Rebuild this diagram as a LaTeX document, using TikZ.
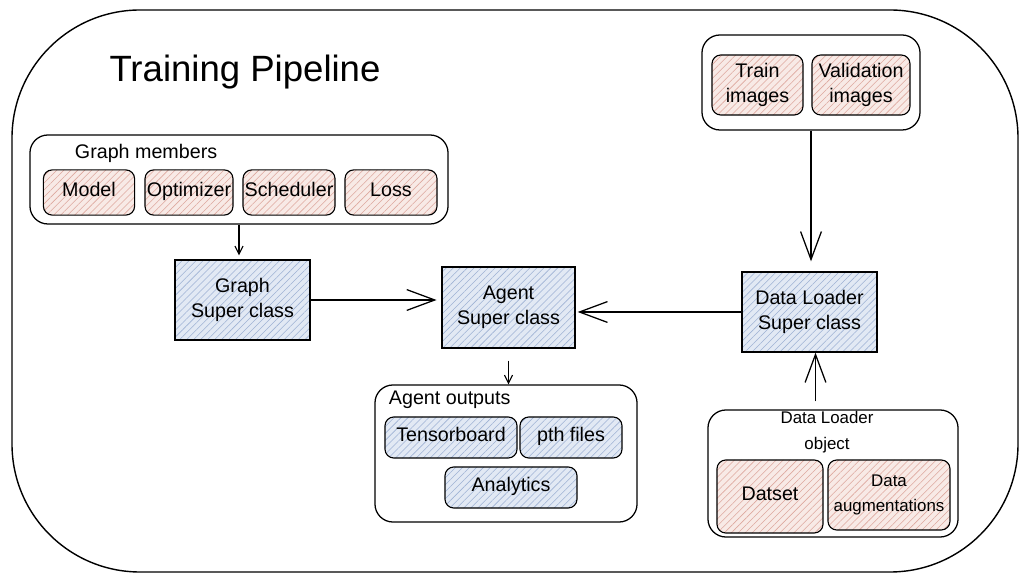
\documentclass[tikz,border=0pt]{standalone}
\usepackage{fontspec}
\setmainfont{Liberation Sans}
\usetikzlibrary{arrows.meta,patterns.meta}

\definecolor{pinkbg}{RGB}{248,234,230}
\definecolor{pinkhatch}{RGB}{222,168,158}
\definecolor{bluebg}{RGB}{226,233,244}
\definecolor{bluehatch}{RGB}{158,178,212}

\tikzset{
	group/.style={draw, line width=0.9pt, rounded corners=0.45cm},
	pinkbox/.style={draw, line width=0.8pt, rounded corners=0.22cm, align=center, inner sep=0pt,
		preaction={fill=pinkbg},
		preaction={pattern={Lines[angle=45,distance=3.5pt,line width=0.4pt]}, pattern color=pinkhatch}},
	bluebox/.style={draw, line width=0.9pt, align=center, inner sep=0pt,
		preaction={fill=bluebg},
		preaction={pattern={Lines[angle=45,distance=3.5pt,line width=0.4pt]}, pattern color=bluehatch}},
	bluepill/.style={bluebox, rounded corners=0.22cm, line width=0.8pt},
	oneline/.style={text height=1.55ex, text depth=0.45ex},
	bigarrow/.style={-{Straight Barb[length=0.7cm,width=0.52cm]}, line width=0.9pt},
	smallarrow/.style={-{Straight Barb[length=0.2cm,width=0.2cm]}, line width=0.8pt},
}

\begin{document}
\begin{tikzpicture}[x=0.025cm, y=-0.025cm, every node/.append style={font=\fontsize{14}{18}\selectfont}]
		\useasboundingbox (0,0) rectangle (1027,582);
		\draw[line width=1pt, rounded corners=3.2cm] (12,10) rectangle (1018,572);

		\node[font=\fontsize{26}{30}\selectfont] (title) at (245,72) {Training Pipeline};

		% graph members
		\node[group, minimum width=10.45cm, minimum height=2.225cm] (members) at (239,179.5) {};
		\node[anchor=west] (memberslabel) at (70,153) {Graph members};
		\node[pinkbox, oneline, minimum width=2.28cm, minimum height=1.13cm] (model) at (89,192.5) {Model};
		\node[pinkbox, oneline, minimum width=2.2cm, minimum height=1.13cm] (optimizer) at (189,192.5) {Optimizer};
		\node[pinkbox, oneline, minimum width=2.3cm, minimum height=1.13cm] (scheduler) at (289,192.5) {Scheduler};
		\node[pinkbox, oneline, minimum width=2.3cm, minimum height=1.13cm] (loss) at (391,192.5) {Loss};

		% super classes
		\node[bluebox, minimum width=3.375cm, minimum height=2cm] (graph) at (242.5,300) {Graph\\Super class};
		\node[bluebox, minimum width=3.325cm, minimum height=2.025cm] (agent) at (508.5,307.5) {Agent\\Super class};
		\node[bluebox, minimum width=3.375cm, minimum height=2cm] (loader) at (809.5,312) {Data Loader\\Super class};

		% images
		\node[group, minimum width=5.45cm, minimum height=2.375cm] (images) at (811,82.5) {};
		\node[pinkbox, minimum width=2.275cm, minimum height=1.5cm] (train) at (757.5,85) {Train\\images};
		\node[pinkbox, minimum width=2.45cm, minimum height=1.5cm] (valid) at (861,85) {Validation\\images};

		% agent outputs
		\node[group, minimum width=6.55cm, minimum height=3.425cm] (outputs) at (506,453.5) {};
		\node[anchor=west] (outputslabel) at (384,400) {Agent outputs};
		\node[bluepill, oneline, minimum width=3.3cm, minimum height=1.025cm] (tensorboard) at (451,437.5) {Tensorboard};
		\node[bluepill, oneline, minimum width=2.55cm, minimum height=1.025cm] (pth) at (571,437.5) {pth files};
		\node[bluepill, oneline, minimum width=3.3cm, minimum height=1.025cm] (analytics) at (511,487.5) {Analytics};

		% data loader object
		\node[group, minimum width=6.25cm, minimum height=3.175cm] (lobject) at (833,473.5) {};
		\node[align=center, font=\fontsize{12}{18}\selectfont] (lobjectlabel) at (827,432) {Data Loader\\object};
		\node[pinkbox, oneline, minimum width=2.65cm, minimum height=1.825cm] (datset) at (770,496.5) {Datset};
		\node[pinkbox, minimum width=3.05cm, minimum height=1.75cm, font=\fontsize{12}{18}\selectfont] (augment) at (889,495) {Data\\augmentations};

		\draw[smallarrow, shorten >=0.1cm] (members.south) -- (members.south |- graph.north);
		\draw[bigarrow, shorten >=0.12cm] (graph.east) -- (graph.east -| agent.west);
		\draw[bigarrow, shorten >=0.05cm] (loader.west) -- (loader.west -| agent.east);
		\draw[bigarrow, shorten >=0.25cm] (images.south) -- (images.south |- loader.north);
		\draw[bigarrow, shorten <=0.2cm] ([xshift=0.15cm]loader.south |- lobject.north) -- ([xshift=0.15cm]loader.south);
		\draw[smallarrow, shorten <=0.3cm] (agent.south) -- (agent.south |- outputs.north);
\end{tikzpicture}
\end{document}
